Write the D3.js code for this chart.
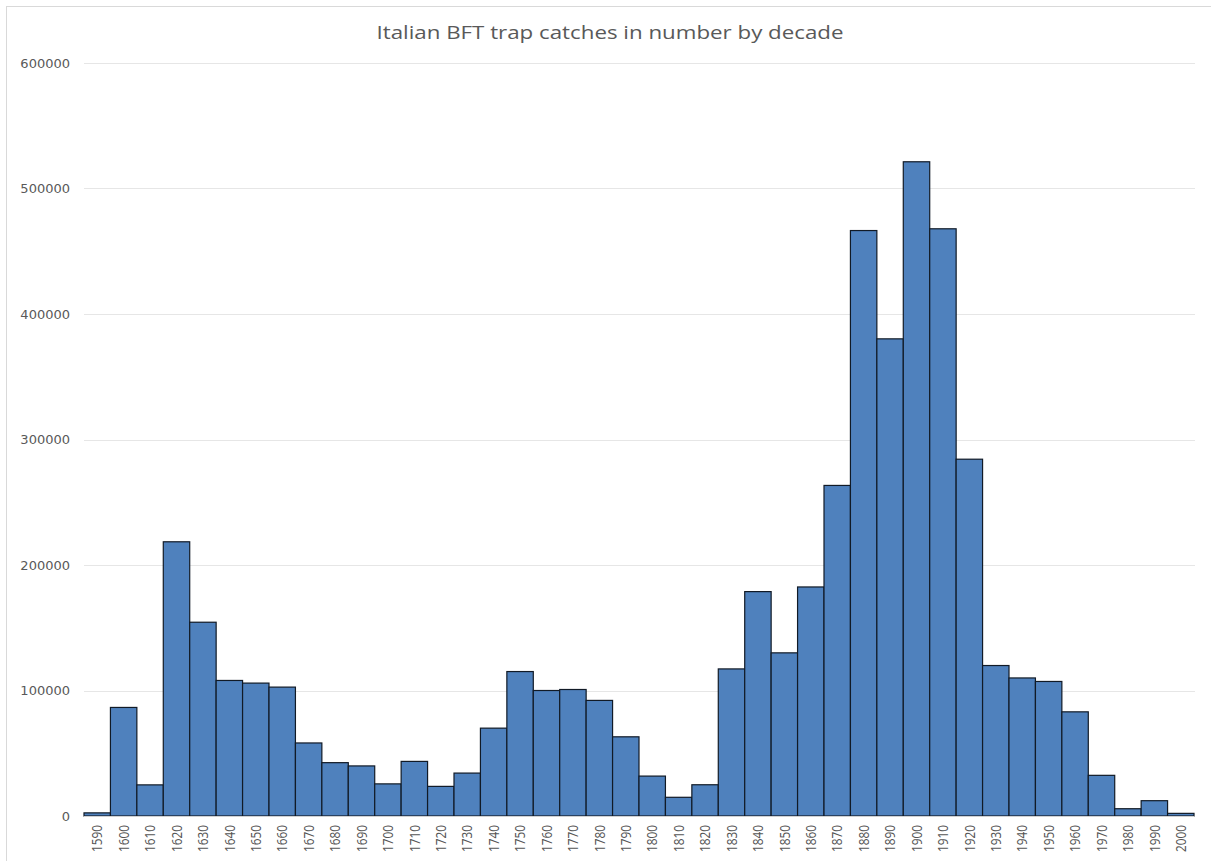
<!DOCTYPE html>
<html>
<head>
<meta charset="utf-8">
<script src="https://cdn.jsdelivr.net/npm/d3@7"></script>
<style>
  html, body { margin: 0; padding: 0; background: #fff; }
  svg { display: block; }
</style>
</head>
<body>
<svg id="chart" width="1211" height="861"></svg>
<script>
// Decades and trap catches (number of fish) per decade
const decades = [1590, 1600, 1610, 1620, 1630, 1640, 1650, 1660, 1670, 1680,
                 1690, 1700, 1710, 1720, 1730, 1740, 1750, 1760, 1770, 1780,
                 1790, 1800, 1810, 1820, 1830, 1840, 1850, 1860, 1870, 1880,
                 1890, 1900, 1910, 1920, 1930, 1940, 1950, 1960, 1970, 1980,
                 1990, 2000];
const catches = [2500, 86500, 24800, 218500, 154400, 108000, 105900, 102700, 58200, 42500,
                 39900, 25600, 43500, 23600, 34200, 70000, 115100, 100000, 100800, 92100,
                 63100, 31800, 14900, 24900, 117200, 178800, 130000, 182500, 263400, 466500,
                 380200, 521300, 467900, 284300, 119900, 110000, 107200, 83000, 32400, 5800,
                 12200, 2100];
const yTicks = [0, 100000, 200000, 300000, 400000, 500000, 600000];
const titleText = "Italian BFT trap catches in number by decade";

const svg = d3.select("#chart");
const plot = { left: 84, right: 1194, top: 63, bottom: 816 };

// Outer chart frame
svg.append("rect")
  .attr("x", 6.5).attr("y", 6.5)
  .attr("width", 1215).attr("height", 865)
  .attr("fill", "none").attr("stroke", "#d9d9d9").attr("stroke-width", 1);

const x = d3.scaleBand()
  .domain(decades)
  .range([plot.left, plot.right])
  .paddingInner(0).paddingOuter(0);

const y = d3.scaleLinear()
  .domain([0, 600000])
  .range([plot.bottom, plot.top]);

// Horizontal gridlines
svg.append("g")
  .selectAll("line")
  .data(yTicks.filter(d => d > 0))
  .join("line")
  .attr("x1", plot.left).attr("x2", plot.right + 1)
  .attr("y1", d => Math.round(y(d)) + 0.5)
  .attr("y2", d => Math.round(y(d)) + 0.5)
  .attr("stroke", "#e6e6e6").attr("stroke-width", 1);

// Y axis labels
const yAxis = d3.axisLeft(y).tickValues(yTicks).tickSize(0).tickPadding(0)
  .tickFormat(d3.format("d"));
const yg = svg.append("g")
  .attr("transform", `translate(70,0)`)
  .call(yAxis);
yg.select(".domain").remove();
yg.selectAll("text")
  .attr("font-family", "'DejaVu Sans', sans-serif")
  .attr("font-size", 13)
  .attr("fill", "#595959");

// Bars
svg.append("g")
  .selectAll("rect")
  .data(decades.map((d, i) => ({ decade: d, value: catches[i] })))
  .join("rect")
  .attr("x", d => x(d.decade))
  .attr("y", d => y(d.value))
  .attr("width", x.bandwidth())
  .attr("height", d => y(0) - y(d.value))
  .attr("fill", "#4f81bd")
  .attr("stroke", "#111a26")
  .attr("stroke-width", 1.2);

// Baseline
svg.append("line")
  .attr("x1", plot.left).attr("x2", plot.right)
  .attr("y1", y(0) + 0.5).attr("y2", y(0) + 0.5)
  .attr("stroke", "#d0d0d0").attr("stroke-width", 1);

// X axis labels (rotated)
const xAxis = d3.axisBottom(x).tickSize(0).tickPadding(0);
const xg = svg.append("g")
  .attr("transform", `translate(0,${plot.bottom})`)
  .call(xAxis);
xg.select(".domain").remove();
xg.selectAll("text")
  .attr("font-family", "'Open Sans', sans-serif")
  .attr("font-size", 14.5)
  .attr("fill", "#555555")
  .attr("text-anchor", "end")
  .attr("transform", "rotate(-90)")
  .attr("x", -9)
  .attr("y", 0)
  .attr("dy", "0.36em")
  .attr("textLength", 27)
  .attr("lengthAdjust", "spacingAndGlyphs");

// Title
svg.append("text")
  .attr("x", 610).attr("y", 39)
  .attr("text-anchor", "middle")
  .attr("font-family", "'Open Sans', sans-serif")
  .attr("font-size", 19)
  .attr("fill", "#595959")
  .attr("textLength", 467)
  .attr("lengthAdjust", "spacingAndGlyphs")
  .text(titleText);
</script>
</body>
</html>
